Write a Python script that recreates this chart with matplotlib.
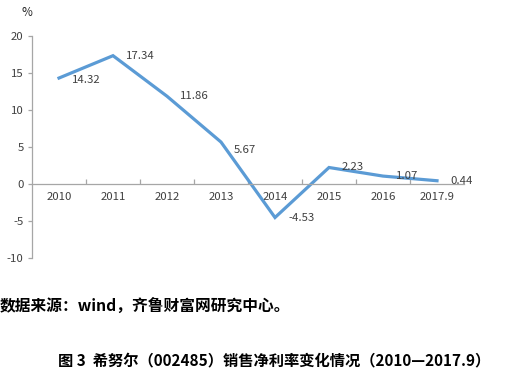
import matplotlib
matplotlib.use("Agg")
import matplotlib.pyplot as plt
from matplotlib.ticker import FixedLocator

plt.rcParams['font.family'] = ['Noto Sans CJK SC', 'DejaVu Sans']

categories = ['2010', '2011', '2012', '2013', '2014', '2015', '2016', '2017.9']
net_margin = [14.32, 17.34, 11.86, 5.67, -4.53, 2.23, 1.07, 0.44]
y_ticks = [-10, -5, 0, 5, 10, 15, 20]

source_text = '数据来源：wind，齐鲁财富网研究中心。'
caption_text = '图 3  希努尔（002485）销售净利率变化情况（2010—2017.9）'

W, H = 518, 377
fig = plt.figure(figsize=(W / 100, H / 100), dpi=100)
ax = fig.add_axes([32 / W, 1 - 258 / H, 432 / W, 222 / H])

x = list(range(len(categories)))
ax.plot(x, net_margin, color='#5B9BD5', lw=2.3, solid_joinstyle='miter')

ax.set_xlim(-0.5, len(categories) - 0.5)
ax.set_ylim(-10, 20)
ax.set_yticks(y_ticks)
ax.set_yticklabels([str(v) for v in y_ticks])

ax.set_xticks(x)
ax.set_xticklabels(categories)
ax.xaxis.set_minor_locator(FixedLocator([i + 0.5 for i in range(len(categories) - 1)]))

axis_col = '#A6A6A6'
text_col = '#404040'
for s in ['top', 'right']:
    ax.spines[s].set_visible(False)
ax.spines['bottom'].set_position(('data', 0))
ax.spines['bottom'].set_color(axis_col)
ax.spines['left'].set_color(axis_col)
ax.spines['bottom'].set_linewidth(0.9)
ax.spines['left'].set_linewidth(0.9)

ax.tick_params(axis='x', which='major', length=0, pad=5.5, labelsize=8.2, labelcolor=text_col)
ax.tick_params(axis='x', which='minor', direction='in', length=3.5, color=axis_col, width=0.9)
ax.tick_params(axis='y', which='major', direction='out', length=3, pad=3, labelsize=8.2,
               labelcolor=text_col, color=axis_col, width=0.9)

# data labels to the right of each point
extra_dy = {3: -8, 0: -2}
for i, v in enumerate(net_margin):
    ax.annotate(f'{v:.2f}', (i, v), xytext=(13, extra_dy.get(i, 0)), textcoords='offset pixels',
                ha='left', va='center', fontsize=8.2, color=text_col)

fig.text(27 / W, 1 - 13 / H, '%', ha='center', va='center', fontsize=8.5, color='#262626')

fig.text(0 / W, 1 - 307 / H, source_text, ha='left', va='center', fontsize=11.3,
         fontweight='bold', color='black')
fig.text(274 / W, 1 - 360 / H, caption_text, ha='center', va='center', fontsize=11,
         fontweight='bold', color='black')

fig.savefig('out.png', dpi=100)
